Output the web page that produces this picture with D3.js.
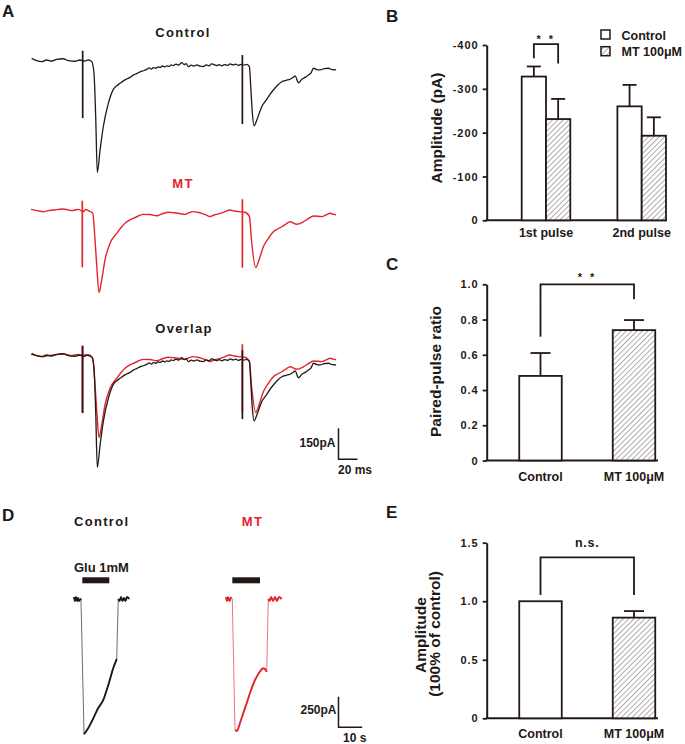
<!DOCTYPE html>
<html>
<head>
<meta charset="utf-8">
<script src="https://cdn.jsdelivr.net/npm/d3@7"></script>
<style>
  body { margin: 0; background: #fff; }
  svg { display: block; font-family: "Liberation Sans", Arial, sans-serif; font-weight: bold; }
</style>
</head>
<body>
<svg id="fig" width="685" height="744"></svg>
<script>
const ink = "#231815", red = "#e3242b";

// ---- A: evoked EPSC traces, [time ms, current pA] ----
const controlTrace = [[0.7,8],[6,-3],[11.3,-8],[16.5,0],[21.8,-5],[27.1,3],[34,6],[39.3,-3],[46.3,-6],[51.6,0],[56.9,-5],[60.3,0],[63.9,-8],
  [66.3,-64],[68.1,-274],[69.8,-544],[72.7,-436],[76.1,-323],[81.4,-210],[86.7,-142],[90.2,-125],[93.7,-113],[97.2,-101],[100.8,-92],[104.3,-84],[107.7,-73],[111.2,-66],[114.8,-57],[118.3,-52],
  [121.8,-45],[124.5,-38],[126.8,-44],[128.8,-37],[131.5,-40],[133.6,-33],[135.8,-36],[138.6,-29],[140.9,-34],[142.9,-28],[145.5,-31],[147.6,-24],[149.8,-27],[152.7,-20],[155.5,-25],[158.7,-13],
  [161.2,-22],[163.4,-18],[165.6,-32],[168.5,-25],[171.6,-29],[174.5,-24],[177.9,-30],[181.4,-32],[184.3,-24],[187.6,-28],[190,-19],[192,-21],[195.3,-27],[198.2,-22],[200.8,-28],[203.9,-22],
  [206.8,-26],[209.5,-19],[212.6,-24],[215.4,-20],[218.3,-26],[221.2,-21],[224.3,-25],[227.1,-21],[229.9,-32],
  [231.3,-129],[233,-258],[234.8,-319],[237.7,-290],[242.9,-226],[248.2,-190],[251.6,-166],[255.1,-145],[259.5,-122],[264,-105],[268.4,-98],[272.7,-93],[275.4,-86],[278,-77],[281.5,-110],
  [285.1,-93],[288.6,-84],[292,-73],[294.8,-62],[297.3,-40],[300.8,-46],[304.3,-48],[308.7,-42],[313.1,-40],[317.2,-47],[321.2,-48]];
const mtTrace = [[0,3],[6.5,-3],[13,-8],[18.2,-3],[23.5,0],[28.7,3],[34,5],[38.5,1],[42.9,-3],[46.4,0],[49.8,3],[55.1,-8],[57.6,3],[60.3,-3],[65,-16],
  [67.4,-145],[69.5,-290],[71.6,-400],[74.4,-339],[77.9,-242],[83.2,-161],[90.2,-113],[94.6,-86],[99,-64],[103.4,-50],[107.7,-40],[113,-29],[118.3,-21],[125.3,-22],[132.4,-28],[138.5,-18],
  [144.6,-11],[150,-13],[155.1,-16],[162.2,-21],[166.5,-13],[170.9,-8],[175.3,-11],[179.8,-16],[184.2,-24],[188.5,-32],[192.8,-24],[197.2,-19],[203.3,-10],[209.5,0],[213.9,-5],[218.3,-8],
  [225.3,-11],[229.9,-32],[232.4,-161],[236.6,-279],[239.4,-250],[244.6,-178],[249.8,-138],[255.1,-105],[259.6,-92],[264,-81],[268.4,-68],[272.7,-57],[279.8,-69],[286.7,-57],[292,-42],
  [297.3,-29],[306.1,-32],[310.5,-24],[314.8,-16],[318,-20],[321.2,-23]];
// stimulus artefacts: [time ms, top pA, bottom pA]
const controlArtifacts = [[54.4,45,-281],[222.5,24,-310]];
const mtArtifacts = [[54.0,45,-277],[222.5,52,-279]];

// ---- D: glutamate-evoked currents, [time s, current pA] ----
const gluControlTrace = [[0,16],[0.42,-16],[0.84,16],[1.27,-16],[1.69,8],[2.11,-16],[2.74,0],[2.95,-8],
  [4.22,-1105],[5.9,-1058],[8.13,-975],[10.1,-895],[12.36,-825],[14.35,-711],[16.58,-564],[18.02,-490],
  [18.69,0],[19.2,-16],[19.83,16],[20.46,-16],[21.1,8],[21.73,-16],[22.36,16],[23.33,0]];
const gluMtTrace = [[0,16],[0.42,-16],[0.84,16],[1.48,-16],[2.11,16],[2.66,0],
  [3.8,-1070],[4.64,-1078],[5.91,-1013],[7.17,-940],[8.73,-852],[10.13,-768],[12.24,-662],[13.92,-605],[15.74,-566],[16.46,-572],[17.17,-594],
  [17.85,0],[18.35,-16],[18.99,16],[19.83,-16],[20.68,16],[21.52,-16],[22.36,16],[23.5,0]];
const gluControlPuff = [3.5, 14.9];
const gluMtPuff = [2.66, 14.35];

// ---- B: amplitudes (pA, shown negative) ----
const pulses = ["1st pulse", "2nd pulse"];
const conditions = ["Control", "MT 100μM"];
const ampControl = [328, 260];
const ampControlErr = [23, 49];
const ampMT = [231, 193];
const ampMTErr = [46, 42];
const ampTicks = [0, 100, 200, 300, 400];

// ---- C: paired-pulse ratio ----
const ppr = [0.48, 0.74];
const pprErr = [0.13, 0.057];
const pprTicks = [0, 0.2, 0.4, 0.6, 0.8, 1.0];

// ---- E: relative amplitude ----
const relAmp = [1.0, 0.86];
const relAmpErr = [0, 0.056];
const relTicks = [0, 0.5, 1.0, 1.5];

const svg = d3.select("#fig");
svg.append("rect").attr("width", 685).attr("height", 744).attr("fill", "#fff");

const pat = svg.append("defs").append("pattern")
  .attr("id", "hatch").attr("patternUnits", "userSpaceOnUse")
  .attr("width", 3.8).attr("height", 3.8).attr("patternTransform", "rotate(45)");
pat.append("rect").attr("width", 3.8).attr("height", 3.8).attr("fill", "#fff");
pat.append("line").attr("x1", 0).attr("y1", 0).attr("x2", 0).attr("y2", 3.8)
  .attr("stroke", "#4a4a4a").attr("stroke-width", 0.9);

const label = (x, y, s, size, color = ink, anchor = "middle") =>
  svg.append("text").attr("x", x).attr("y", y).attr("text-anchor", anchor)
    .attr("font-size", size).attr("fill", color).text(s);

// panel letters
[["A", 2, 17], ["B", 386, 22], ["C", 386, 270], ["D", 2, 521], ["E", 386, 518]]
  .forEach(([s, x, y]) => label(x, y, s, 17, ink, "start"));

// ================= A =================
const tA = d3.scaleLinear().domain([0, 20]).range([31, 50]);
const yTrace = base => d3.scaleLinear().domain([0, -150]).range([base, base + 31]);

const drawTrace = (data, arts, y, color, width) => {
  const line = d3.line().curve(d3.curveMonotoneX).x(d => tA(d[0])).y(d => y(d[1]));
  svg.append("path").datum(data).attr("d", line)
    .attr("fill", "none").attr("stroke", color).attr("stroke-width", width)
    .attr("stroke-linejoin", "round");
  svg.selectAll(null).data(arts).join("line")
    .attr("x1", d => tA(d[0])).attr("x2", d => tA(d[0]))
    .attr("y1", d => y(d[1])).attr("y2", d => y(d[2]))
    .attr("stroke", color).attr("stroke-width", 1.7);
};

const y1 = yTrace(60), y2 = yTrace(210), y3 = yTrace(355);
label(183, 37, "Control", 13, ink).attr("letter-spacing", 1.3);
drawTrace(controlTrace, controlArtifacts, y1, ink, 1.3);
label(183, 188, "MT", 13, red).attr("letter-spacing", 1.3);
drawTrace(mtTrace, mtArtifacts, y2, red, 1.4);
label(184, 333, "Overlap", 13, ink).attr("letter-spacing", 1.3);
drawTrace(mtTrace, mtArtifacts, y3, red, 1.4);
drawTrace(controlTrace, controlArtifacts, y3, ink, 1.3);

// scale bar A
{
  const x0 = 338.5, yb = 459.3;
  const h = y3(-150) - y3(0), w = tA(20) - tA(0);
  svg.append("path").attr("d", `M${x0},${yb - h}V${yb}H${x0 + w}`)
    .attr("fill", "none").attr("stroke", ink).attr("stroke-width", 1.5);
  label(335.5, 446.5, "150pA", 12, ink, "end");
  label(338, 474, "20 ms", 12, ink, "start");
}

// ================= D =================
const tD = d3.scaleLinear().domain([0, 10]).range([0, 23.7]);
const yD = d3.scaleLinear().domain([0, -250]).range([599, 629.6]);

const drawGlu = (data, puff, x0, color) => {
  const line = d3.line().x(d => x0 + tD(d[0])).y(d => yD(d[1]));
  // fast jumps are thin, the slow (noisy) parts drawn heavier on top
  svg.append("path").datum(data).attr("d", line)
    .attr("fill", "none").attr("stroke", color).attr("stroke-width", 0.8).attr("opacity", 0.8);
  const slow = data.filter(d => d[0] < puff[0] || d[0] > puff[0] + 0.5 && d[1] < -100 || d[0] > puff[1] + 3);
  const parts = [slow.filter(d => d[1] > -100 && d[0] < puff[0]),
                 slow.filter(d => d[1] <= -100),
                 slow.filter(d => d[1] > -100 && d[0] > puff[0])];
  parts.forEach(p => svg.append("path").datum(p).attr("d", line.curve(d3.curveMonotoneX))
    .attr("fill", "none").attr("stroke", color).attr("stroke-width", 1.9)
    .attr("stroke-linejoin", "round"));
  svg.append("rect").attr("x", x0 + tD(puff[0])).attr("y", 577.3)
    .attr("width", tD(puff[1]) - tD(puff[0])).attr("height", 6).attr("fill", ink);
};
label(74, 525.7, "Control", 13, ink, "start").attr("letter-spacing", 1.3);
label(252.5, 525.7, "MT", 13, red).attr("letter-spacing", 1.3);
label(74, 571.7, "Glu 1mM", 13, ink, "start");
drawGlu(gluControlTrace, gluControlPuff, 74, ink);
drawGlu(gluMtTrace, gluMtPuff, 226, red);

{
  const x0 = 338.5, yb = 727.3;
  const h = yD(-250) - yD(0), w = tD(10) - tD(0);
  svg.append("path").attr("d", `M${x0},${yb - h}V${yb}H${x0 + w}`)
    .attr("fill", "none").attr("stroke", ink).attr("stroke-width", 1.5);
  label(336.5, 714, "250pA", 12, ink, "end");
  label(343, 742, "10 s", 12, ink, "start");
}

// ================= bar chart helpers =================
const styleAxis = g => {
  g.select(".domain").attr("stroke", ink).attr("stroke-width", 2);
  g.selectAll(".tick line").attr("stroke", ink).attr("stroke-width", 1.8);
  g.selectAll(".tick text").attr("fill", ink).attr("font-size", 11)
    .attr("font-weight", "bold").attr("font-family", "Liberation Sans, Arial, sans-serif")
    .attr("letter-spacing", 1);
};

const drawAxes = (y, ticks, fmt, xStart, xEnd) => {
  svg.append("g").attr("transform", `translate(${xStart},0)`)
    .call(d3.axisLeft(y).tickValues(ticks).tickFormat(fmt).tickSize(4).tickSizeOuter(0).tickPadding(4))
    .call(styleAxis);
  svg.append("line").attr("x1", xStart - 1).attr("x2", xEnd)
    .attr("y1", y(0)).attr("y2", y(0)).attr("stroke", ink).attr("stroke-width", 2);
};

const drawBar = (x, w, v, err, y, hatched, cap) => {
  if (err > 0) {
    const cx = x + w / 2;
    svg.append("line").attr("x1", cx).attr("x2", cx).attr("y1", y(v)).attr("y2", y(v + err))
      .attr("stroke", ink).attr("stroke-width", 1.8);
    svg.append("line").attr("x1", cx - cap / 2).attr("x2", cx + cap / 2)
      .attr("y1", y(v + err)).attr("y2", y(v + err)).attr("stroke", ink).attr("stroke-width", 1.8);
  }
  svg.append("rect").attr("x", x).attr("y", y(v)).attr("width", w).attr("height", y(0) - y(v))
    .attr("fill", hatched ? "url(#hatch)" : "#fff").attr("stroke", ink).attr("stroke-width", 1.8);
};

const bracket = (xl, xr, y, top, left, right, text, ty, size) => {
  svg.append("path").attr("d", `M${xl},${y(left)}V${y(top)}H${xr}V${y(right)}`)
    .attr("fill", "none").attr("stroke", ink).attr("stroke-width", 1.8);
  label((xl + xr) / 2, ty, text, size).attr("letter-spacing", text === "n.s." ? 0.8 : 2.5);
};

const yTitle = (x, y, s) =>
  svg.append("text").attr("transform", `translate(${x},${y}) rotate(-90)`)
    .attr("text-anchor", "middle").attr("font-size", 15.5).attr("fill", ink).text(s);

// ================= B =================
{
  const y = d3.scaleLinear().domain([0, 400]).range([220.3, 45]);
  const x = d3.scalePoint().domain(pulses).range([546, 641.7]);
  const sub = d3.scaleBand().domain(conditions).range([-24.3, 24.3]);
  drawAxes(y, ampTicks, d => d === 0 ? "0" : "-" + d, 486.7, 667);
  pulses.forEach((p, i) => {
    drawBar(x(p) + sub(conditions[0]), sub.bandwidth(), ampControl[i], ampControlErr[i], y, false, 14);
    drawBar(x(p) + sub(conditions[1]), sub.bandwidth(), ampMT[i], ampMTErr[i], y, true, 14);
    label(x(p), 237, p, 12.5);
  });
  const xl = x(pulses[0]) + sub(conditions[0]) + sub.bandwidth() / 2;
  const xr = x(pulses[0]) + sub(conditions[1]) + sub.bandwidth() / 2;
  bracket(xl, xr, y, 402, 370, 358, "* *", 42.5, 11);
  yTitle(441.5, 128, "Amplitude (pA)");

  // legend
  svg.append("rect").attr("x", 601).attr("y", 30).attr("width", 9).attr("height", 9)
    .attr("fill", "#fff").attr("stroke", ink).attr("stroke-width", 1.5);
  svg.append("rect").attr("x", 601).attr("y", 46.7).attr("width", 9).attr("height", 9)
    .attr("fill", "url(#hatch)").attr("stroke", ink).attr("stroke-width", 1.5);
  label(621.5, 39.5, conditions[0], 12.5, ink, "start");
  label(621.5, 56, conditions[1], 12.5, ink, "start");
}

// ================= C =================
{
  const y = d3.scaleLinear().domain([0, 1]).range([460.5, 284.3]);
  const x = d3.scalePoint().domain(conditions).range([540.5, 634]);
  const w = 42.5;
  drawAxes(y, pprTicks, d => d === 0 ? "0" : d3.format(".1f")(d), 486.7, 658);
  conditions.forEach((c, i) => {
    drawBar(x(c) - w / 2, w, ppr[i], pprErr[i], y, i === 1, 20);
    label(x(c), 480.5, c, 12.5);
  });
  bracket(x(conditions[0]), x(conditions[1]), y, 1.0, 0.703, 0.915, "* *", 280.5, 11);
  yTitle(441, 371.5, "Paired-pulse ratio");
}

// ================= E =================
{
  const y = d3.scaleLinear().domain([0, 1.5]).range([718.3, 542.7]);
  const x = d3.scalePoint().domain(conditions).range([540.5, 634]);
  const w = 42.5;
  drawAxes(y, relTicks, d => d === 0 ? "0" : d3.format(".1f")(d), 486.7, 658);
  conditions.forEach((c, i) => {
    drawBar(x(c) - w / 2, w, relAmp[i], relAmpErr[i], y, i === 1, 20);
    label(x(c), 738, c, 12.5);
  });
  bracket(x(conditions[0]), x(conditions[1]), y, 1.375, 1.053, 1.053, "n.s.", 547, 12.5);
  yTitle(426, 635, "Amplitude");
  yTitle(440, 634, "(100% of control)");
}
</script>
</body>
</html>
